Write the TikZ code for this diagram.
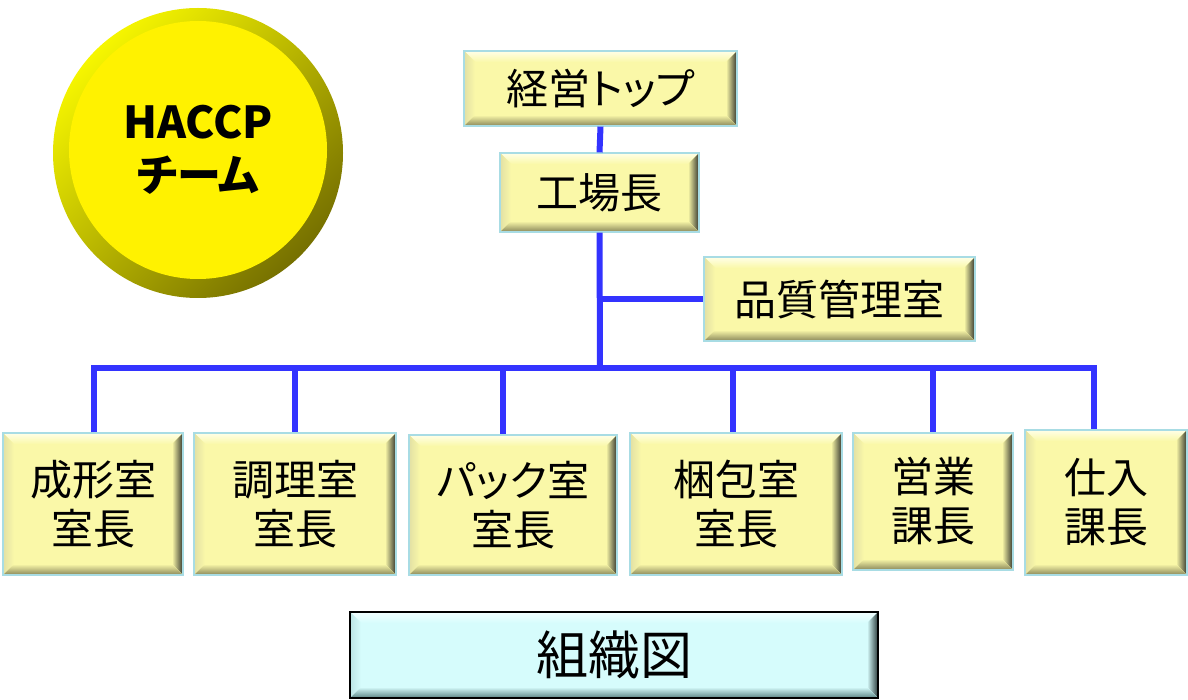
\documentclass[tikz,border=0pt]{standalone}
\usepackage{fontspec}
\newfontfamily\jp{Noto Sans CJK JP}[RawFeature=+palt]
\definecolor{boxfill}{HTML}{FAF8A8}
\definecolor{bvlight}{HTML}{FFFFE8}
\definecolor{bvleft}{HTML}{E2E0A4}
\definecolor{bvdark}{HTML}{34362E}
\definecolor{bvbot}{HTML}{88865A}
\definecolor{edge}{HTML}{A8DCE4}
\definecolor{tfill}{HTML}{D6FCFC}
\definecolor{tlight}{HTML}{F2FFFF}
\definecolor{tleft}{HTML}{BCE4E4}
\definecolor{tbot}{HTML}{5A8484}
\definecolor{tdark}{HTML}{2A3A3A}
\definecolor{linkblue}{HTML}{3333FF}
\definecolor{ringlight}{HTML}{F6F600}
\definecolor{ringdark}{HTML}{767000}
\newcommand\bevels[5]{%
  \path (path picture bounding box.north west) coordinate (pnw)
        (path picture bounding box.north east) coordinate (pne)
        (path picture bounding box.south west) coordinate (psw)
        (path picture bounding box.south east) coordinate (pse);
  \fill[top color=#2, bottom color=#1] (pnw) -- (pne) -- ([shift={(-11pt,-11pt)}]pne) -- ([shift={(11pt,-11pt)}]pnw) -- cycle;
  \fill[left color=#3, right color=#1] (pnw) -- ([shift={(11pt,-11pt)}]pnw) -- ([shift={(11pt,11pt)}]psw) -- (psw) -- cycle;
  \fill[left color=#1, right color=#4] (pne) -- (pse) -- ([shift={(-11pt,11pt)}]pse) -- ([shift={(-11pt,-11pt)}]pne) -- cycle;
  \fill[top color=#1, bottom color=#5] (psw) -- (pse) -- ([shift={(-11pt,11pt)}]pse) -- ([shift={(11pt,11pt)}]psw) -- cycle;
}
\tikzset{
  ybox/.style={draw=edge, line width=1.2pt, fill=boxfill, inner sep=0pt, align=center,
    font=\jp\fontsize{42}{49}\selectfont,
    path picture={\bevels{boxfill}{bvlight}{bvleft}{bvdark}{bvbot}}},
  tbox/.style={draw=black, line width=2pt, fill=tfill, inner sep=0pt, align=center,
    font=\jp\fontsize{52}{60}\selectfont,
    path picture={\bevels{tfill}{tlight}{tleft}{tdark}{tbot}}},
  link/.style={draw=linkblue, line width=6pt},
}
\begin{document}
\begin{tikzpicture}[x=1pt, y=-1pt]
\useasboundingbox (0,0) rectangle (1188,700);
% HACCP team badge
\node[circle, minimum size=290pt, inner sep=0pt, top color=ringlight, bottom color=ringdark, shading angle=45] (ring) at (198,153) {};
\node[circle, minimum size=258pt, inner sep=0pt, fill=yellow, align=center,
      font=\jp\bfseries\fontsize{44}{53}\selectfont] (haccp) at (198,150) {HACCP\\チーム};
% boxes
\node[ybox, minimum width=273pt, minimum height=75pt] (top) at (600.5,88.5) {経営トップ};
\node[ybox, minimum width=199pt, minimum height=79pt] (koujou) at (599.5,192.5) {工場長};
\node[ybox, minimum width=271pt, minimum height=84pt] (hinshitsu) at (839.5,299) {品質管理室};
\node[ybox, minimum width=180pt, minimum height=142pt] (b1) at (93,504) {成形室\\室長};
\node[ybox, minimum width=202pt, minimum height=142pt] (b2) at (295,504) {調理室\\室長};
\node[ybox, minimum width=208pt, minimum height=140pt] (b3) at (513,505) {パック室\\室長};
\node[ybox, minimum width=212pt, minimum height=142pt] (b4) at (736,504) {梱包室\\室長};
\node[ybox, minimum width=160pt, minimum height=137pt] (b5) at (933,501.5) {営業\\課長};
\node[ybox, minimum width=162pt, minimum height=145pt] (b6) at (1106,502.5) {仕入\\課長};
\node[tbox, minimum width=528pt, minimum height=86pt] (title) at (614,655) {組織図};
% connectors
\coordinate (bus) at (600,368);
\coordinate (t1) at (94,368);
\coordinate (t2) at (295,368);
\coordinate (t3) at (503,368);
\coordinate (t4) at (733,368);
\coordinate (t5) at (933,368);
\coordinate (t6) at (1094,368);
\coordinate (br) at (600,299);
\draw[link] (top.south) -- (koujou.north);
\draw[link] (koujou.south) -- (bus);
\draw[link] (br) -- (hinshitsu.west);
\draw[link, line join=miter] (t1 |- b1.north) -- (t1) -- (t6) -- (t6 |- b6.north);
\draw[link] (t2) -- (t2 |- b2.north);
\draw[link] (t3) -- (t3 |- b3.north);
\draw[link] (t4) -- (t4 |- b4.north);
\draw[link] (t5) -- (t5 |- b5.north);
\end{tikzpicture}
\end{document}
